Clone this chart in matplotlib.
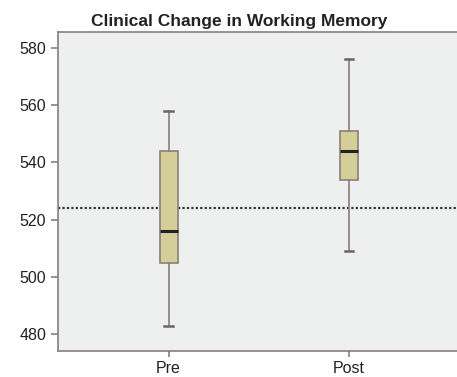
import matplotlib
matplotlib.use("Agg")
from matplotlib import pyplot as plt

# values
labels = ["Pre", "Post"]
whisker_low = [483, 509]
q1 = [505, 534]
medians = [516, 544]
q3 = [544, 551]
whisker_high = [558, 576]
reference_value = 524
y_ticks = [480, 500, 520, 540, 560, 580]


def main():
    plt.rcParams['font.family'] = ['Liberation Sans', 'DejaVu Sans']
    fig = plt.figure(figsize=(4.57, 3.77), dpi=100)
    ax = fig.add_axes([0.127, 0.07, 0.873, 0.845])
    ax.set_facecolor('#eef0f0')

    edge = '#8a7f7a'
    stats = []
    for i, name in enumerate(labels):
        stats.append({
            'label': name,
            'whislo': whisker_low[i],
            'q1': q1[i],
            'med': medians[i],
            'q3': q3[i],
            'whishi': whisker_high[i],
            'fliers': [],
        })

    ax.axhline(reference_value, color='#333333', linestyle=(0, (1, 1)),
               linewidth=1.6, zorder=1)
    ax.bxp(stats, positions=[1, 2], widths=0.1, patch_artist=True,
           showfliers=False,
           boxprops=dict(facecolor='#d4cf98', edgecolor=edge, linewidth=1.2),
           whiskerprops=dict(color=edge, linewidth=1.2),
           capprops=dict(color='#6f6560', linewidth=1.8),
           medianprops=dict(color='#222222', linewidth=2.2),
           capwidths=0.045, zorder=3)

    ax.set_xlim(0.387, 2.6)
    ax.set_ylim(474.3, 585.5)
    ax.set_yticks(y_ticks)
    ax.tick_params(axis='both', colors=edge, labelcolor='#222222',
                   labelsize=11.5, length=5, width=1.2)
    ax.tick_params(axis='x', length=4)
    for spine in ax.spines.values():
        spine.set_color(edge)
        spine.set_linewidth(1.2)
    ax.spines['right'].set_visible(False)
    fig.text(0.523, 0.943, 'Clinical Change in Working Memory',
             fontsize=12.5, fontweight='bold', color='#222222',
             ha='center', va='center')

    fig.savefig('out.png', dpi=100)


if __name__ == "__main__":
    main()
